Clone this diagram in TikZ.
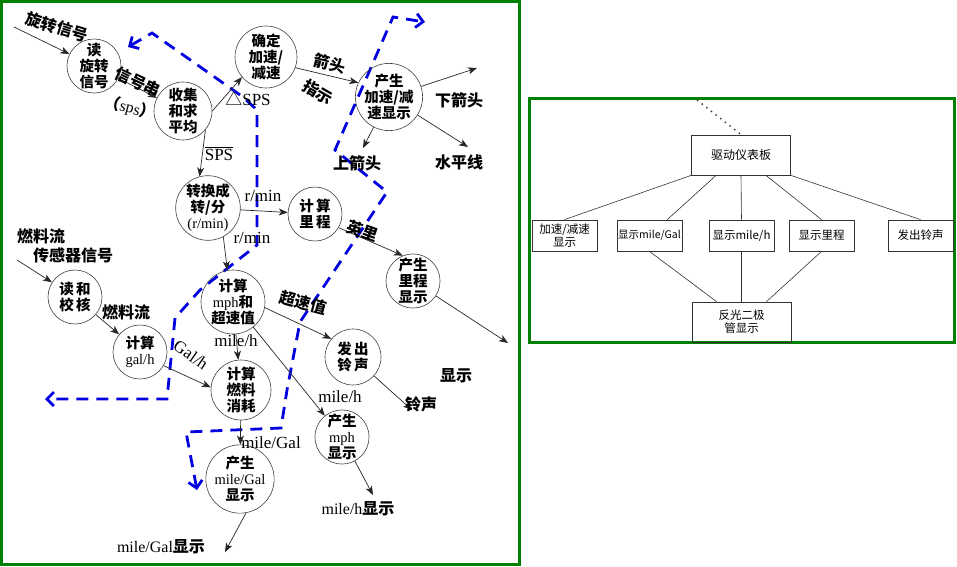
\documentclass[tikz,border=0pt]{standalone}
\usepackage{fontspec}
\setmainfont{Liberation Serif}
\newfontfamily\cjk{Noto Sans CJK SC}
\usetikzlibrary{arrows.meta, calc}
\definecolor{framegreen}{RGB}{0,128,0}
\definecolor{flowblue}{RGB}{0,0,225}
\newcommand{\en}[1]{{\rmfamily\mdseries #1}}

\begin{document}
\begin{tikzpicture}[
  x=1pt, y=-1pt,
  proc/.style={circle, draw=black!75, line width=0.6pt, minimum size=#1, inner sep=0pt, align=center, font=\cjk\bfseries\fontsize{14.5}{16}\selectfont},
  proc/.default=56pt,
  lbl/.style={inner sep=0pt, font=\cjk\bfseries\fontsize{16}{18}\selectfont},
  elbl/.style={inner sep=0pt, font=\fontsize{17}{19}\selectfont},
  flow/.style={-{Stealth[length=9pt,width=7pt,inset=2.5pt]}, black!85, line width=0.7pt},
  bound/.style={{Straight Barb[length=7pt,width=14pt]}-{Straight Barb[length=7pt,width=14pt]}, flowblue, line width=2.8pt, dash pattern=on 12pt off 8pt},
  frame/.style={draw=framegreen, line width=3pt},
  box/.style={rectangle, draw=black!80, line width=0.8pt, minimum width=65pt, minimum height=31pt, inner sep=1pt, align=center, font=\cjk\fontsize{11.5}{13}\selectfont},
  link/.style={black!80, line width=0.6pt}
]
  \useasboundingbox (0,0) rectangle (957,566);
  \draw[frame] (1.5,1.5) rectangle (519.5,564.5);
  \draw[frame] (529.5,98.5) rectangle (954.5,342.5);

  \draw[bound] (128,47) -- (152,33) -- (243,97) -- (257,110) -- (257,245) -- (200,290) -- (175,318) -- (167,399) -- (45,399);
  \draw[bound] (197,490) -- (186,432) -- (281,428) -- (287,390) -- (300,322) -- (387,192) -- (335,150) -- (393,17) -- (425,22);

  \node[proc=52pt] (rd) at (94,66) {读\\旋转\\信号};
  \node[proc=58pt] (coll) at (183,111) {收集\\和求\\平均};
  \node[proc=62pt] (acc) at (266,57) {确定\\加速/\\减速};
  \node[proc=62pt] (gen) at (389,97) {产生\\加速/减\\速显示};
  \node[proc=60pt] (conv) at (208,208) {转换成\\转/分\\\en{(r/min)}};
  \node[proc=54pt] (dist) at (315,214) {计\,算\\里\,程};
  \node[proc=54pt] (odo) at (413,281) {产生\\里程\\显示};
  \node[proc=64pt] (mph) at (233,302) {计算\\\en{mph}和\\超速值};
  \node[proc=56pt] (bell) at (353,357) {发\,出\\铃\,声};
  \node[proc=54pt] (mphd) at (342,437) {产生\\\en{mph}\\显示};
  \node[proc=60pt] (fuel) at (241,390) {计算\\燃料\\消耗};
  \node[proc=54pt] (chk) at (75,297) {读\,和\\校\,核};
  \node[proc=54pt] (gal) at (140,352) {计算\\\en{gal/h}};
  \node[proc=58pt] (mpg) at (240,479) {产生\\\en{mile/Gal}\\显示};

  \coordinate (in1) at (14,27);
  \coordinate (in2) at (17,260);
  \coordinate (down) at (477,68);
  \coordinate (flat) at (468,147);
  \coordinate (up) at (363,148);
  \coordinate (odoout) at (508,343);
  \coordinate (bellout) at (412,410);
  \coordinate (mphout) at (373,495);
  \coordinate (mpgout) at (225,552);

  \draw[flow] (in1) -- (rd);
  \draw[flow] (rd) -- (coll);
  \draw[flow] (coll.east) -- (acc.220);
  \draw[flow] (acc.-20) -- (gen.155);
  \draw[flow] (gen) -- (down);
  \draw[flow] (gen) -- (flat);
  \draw[flow] (gen) -- (up);
  \draw[flow] (coll.-40) -- (conv.105);
  \draw[flow] (conv) -- (dist);
  \draw[flow] (conv.-62) -- (mph.100);
  \draw[flow] (dist.-30) -- (odo.112);
  \draw[flow] (odo) -- (odoout);
  \draw[flow] (mph.-10) -- (bell.140);
  \draw[flow] (bell) -- (bellout);
  \draw[flow] (mph) -- (mphd);
  \draw[flow] (mph) -- (fuel);
  \draw[flow] (mphd) -- (mphout);
  \draw[flow] (in2) -- (chk);
  \draw[flow] (chk) -- (gal);
  \draw[flow] (gal.-30) -- (fuel.175);
  \draw[flow] (fuel) -- (mpg);
  \draw[flow] (mpg.-80) -- (mpgout);

  \node[lbl, rotate=-17] at (57,27) {旋转信号};
  \node[lbl, rotate=-25] at (138,82) {信号串};
  \node[lbl, rotate=-15] at (130,108) {（\en{sps}）};
  \node[elbl] at (248,99) {{\cjk △}SPS};
  \node[elbl] (spsavg) at (219,155) {SPS};
  \draw[line width=0.8pt] ([yshift=1.5pt]spsavg.north west) -- ([yshift=1.5pt]spsavg.north east);
  \node[lbl, rotate=-15] at (330,64) {箭头};
  \node[lbl, rotate=-30] at (318,92) {指示};
  \node[lbl] at (459,100) {下箭头};
  \node[lbl] at (459,162) {水平线};
  \node[lbl] at (357,163) {上箭头};
  \node[elbl] at (263,196) {r/min};
  \node[elbl] at (252,238) {r/min};
  \node[lbl, rotate=-20] at (363,231) {英里};
  \node[lbl, rotate=-15] at (303,303) {超速值};
  \node[lbl] at (456,376) {显示};
  \node[lbl] at (421,404) {铃声};
  \node[elbl] at (236,341) {mile/h};
  \node[elbl] at (340,397) {mile/h};
  \node[lbl] at (41,236) {燃料流};
  \node[lbl] at (73,255) {传感器信号};
  \node[lbl] at (126,312) {燃料流};
  \node[elbl, rotate=-35] at (191,355) {Gal/h};
  \node[elbl] at (271,443) {mile/Gal};
  \node[lbl] at (358,509) {\en{mile/h}显示};
  \node[lbl] at (161,547) {\en{mile/Gal}显示};

  \node[box, minimum width=99pt, minimum height=40pt, font=\cjk\fontsize{12}{14}\selectfont] (panel) at (741,155) {驱动仪表板};
  \node[box] (accd) at (564.5,235.5) {加速/减速\\显示};
  \node[box, font=\cjk\fontsize{10.5}{12}\selectfont] (mpgd) at (649.5,235.5) {显示mile/Gal};
  \node[box] (mphb) at (741.5,235.5) {显示mile/h};
  \node[box] (odob) at (821.5,235.5) {显示里程};
  \node[box] (bellb) at (920.5,235.5) {发出铃声};
  \node[box, minimum width=99pt, minimum height=40pt] (led) at (741.5,322) {反光二极\\管显示};
  \coordinate (dots) at (697,100);

  \draw[link, line width=1.4pt, dash pattern=on 1.4pt off 4.5pt] (dots) -- (panel.north);
  \draw[link] (panel.south west) -- (accd.north);
  \draw[link] ($(panel.south west)!0.25!(panel.south east)$) -- ($(mpgd.north west)!0.77!(mpgd.north east)$);
  \draw[link] (panel.south) -- (mphb.north);
  \draw[link] ($(panel.south west)!0.75!(panel.south east)$) -- (odob.north);
  \draw[link] (panel.south east) -- (bellb.north);
  \draw[link] (mpgd.south) -- ($(led.north west)!0.25!(led.north east)$);
  \draw[link] (mphb.south) -- (led.north);
  \draw[link] (odob.south) -- ($(led.north west)!0.75!(led.north east)$);
\end{tikzpicture}
\end{document}
